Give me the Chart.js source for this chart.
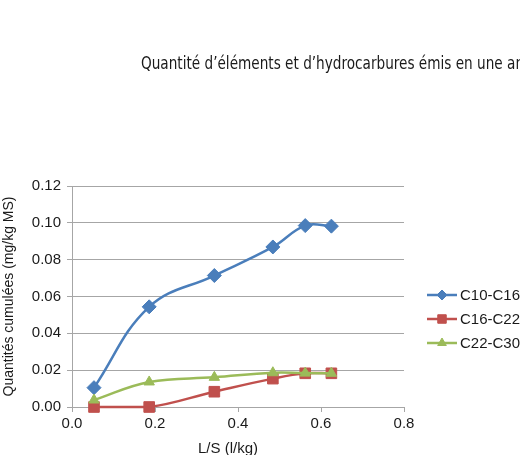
<!DOCTYPE html>
<html>
<head>
<meta charset="utf-8">
<script src="https://cdn.jsdelivr.net/npm/chart.js@4.4.1/dist/chart.umd.min.js"></script>
<style>
  html, body { margin: 0; padding: 0; background: #fff; }
  #wrap { width: 520px; height: 455px; position: relative; }
</style>
</head>
<body>
<div id="wrap"><canvas id="grafico"></canvas></div>
<script>
// donnees
const titre = "Quantité d’éléments et d’hydrocarbures émis en une année"
const titreAxeX = 'L/S (l/kg)'
const ls = [0.053, 0.186, 0.343, 0.484, 0.562, 0.625]
const c10c16 = [0.0105, 0.0544, 0.0714, 0.0869, 0.0985, 0.0982]
const c16c22 = [0.0000, 0.0000, 0.0083, 0.0154, 0.0183, 0.0183]
const c22c30 = [0.0038, 0.0136, 0.0161, 0.0186, 0.0184, 0.0183]
const noms = ['C10-C16', 'C16-C22', 'C22-C30']
const ticksX = [0, 0.2, 0.4, 0.6, 0.8]
const ticksY = [0, 0.02, 0.04, 0.06, 0.08, 0.10, 0.12]

const couleurs = ['#4a7ebb', '#c0504d', '#9bbb59']
const marqueurs = ['rectRot', 'rect', 'triangle']
const tailles = [7, 7.5, 6]
const taillesLegende = [5, 6, 5]
const police = '"Liberation Sans", Arial, sans-serif'

const points = (ys) => ys.map((y, i) => ({ x: ls[i], y: y }))

// titre en haut (police etroite), coupe a droite comme sur l'original
const pluginTitre = {
  id: 'titre',
  afterDraw(chart) {
    const ctx = chart.ctx
    ctx.save()
    ctx.fillStyle = '#1a1a1a'
    ctx.font = '18.5px "DejaVu Sans Condensed", "Liberation Sans Narrow", sans-serif'
    ctx.textBaseline = 'alphabetic'
    const largeur = ctx.measureText('Quantité d’éléments et d’hydrocarbures émis en une ar').width
    const k = 380 / largeur
    ctx.translate(141, 69)
    ctx.scale(k, 1)
    ctx.fillText(titre, 0, 0)
    ctx.restore()

    // titre de l'axe X, un peu a gauche du centre comme dans Excel
    ctx.save()
    ctx.fillStyle = '#1a1a1a'
    ctx.font = '15px ' + police
    ctx.textAlign = 'center'
    ctx.textBaseline = 'middle'
    ctx.fillText(titreAxeX, 228, 449)
    ctx.restore()
  }
}

// legende a droite : trait + marqueur
const pluginLegende = {
  id: 'legende',
  afterDraw(chart) {
    const ctx = chart.ctx
    const x0 = 427, x1 = 457
    const lignes = [295, 319, 343]
    ctx.save()
    chart.data.datasets.forEach((ds, i) => {
      const y = lignes[i]
      ctx.strokeStyle = ds.borderColor
      ctx.lineWidth = 2.5
      ctx.beginPath()
      ctx.moveTo(x0, y)
      ctx.lineTo(x1, y)
      ctx.stroke()
      ctx.fillStyle = ds.borderColor
      ctx.lineWidth = 1
      Chart.helpers.drawPoint(ctx, { pointStyle: ds.pointStyle, radius: taillesLegende[i], borderWidth: 1 }, (x0 + x1) / 2, y)
      ctx.fillStyle = '#1a1a1a'
      ctx.font = '15px ' + police
      ctx.textBaseline = 'middle'
      ctx.fillText(ds.label, 460, y + 1)
    })
    ctx.restore()
  }
}

const series = [c10c16, c16c22, c22c30]

new Chart(document.getElementById('grafico'), {
  type: 'line',
  data: {
    datasets: series.map((s, i) => ({
      label: noms[i],
      data: points(s),
      borderColor: couleurs[i],
      backgroundColor: couleurs[i],
      borderWidth: 2.5,
      pointStyle: marqueurs[i],
      pointRadius: tailles[i],
      pointHoverRadius: tailles[i],
      pointBorderWidth: 1,
      tension: 0.4,
      clip: false,
      order: 3 - i
    }))
  },
  options: {
    responsive: true,
    maintainAspectRatio: false,
    animation: false,
    layout: { padding: { top: 186, right: 116, left: 0, bottom: 0 } },
    plugins: {
      legend: { display: false },
      tooltip: { enabled: false }
    },
    scales: {
      x: {
        type: 'linear',
        min: 0,
        max: 0.8,
        afterFit: (scale) => { scale.height = 48 },
        afterBuildTicks: (scale) => { scale.ticks = ticksX.map(v => ({ value: v })) },
        ticks: {
          color: '#1a1a1a',
          padding: 3,
          font: { family: police, size: 15 },
          callback: (v) => Number(v).toFixed(1)
        },
        grid: { drawOnChartArea: false, drawTicks: true, tickLength: 5, color: '#a6a6a6' },
        border: { color: '#a6a6a6' }
      },
      y: {
        min: 0,
        max: 0.12,
        afterFit: (scale) => { scale.width = 72 },
        afterBuildTicks: (scale) => { scale.ticks = ticksY.map(v => ({ value: v })) },
        ticks: {
          color: '#1a1a1a',
          padding: 6,
          font: { family: police, size: 15 },
          callback: (v) => Number(v).toFixed(2)
        },
        grid: { color: '#a6a6a6', tickLength: 5, lineWidth: 1 },
        border: { color: '#a6a6a6' },
        title: {
          display: true,
          text: 'Quantités cumulées (mg/kg MS)',
          color: '#1a1a1a',
          padding: { top: 1, bottom: 0 },
          font: { family: police, size: 14 }
        }
      }
    }
  },
  plugins: [pluginTitre, pluginLegende]
})
</script>
</body>
</html>
